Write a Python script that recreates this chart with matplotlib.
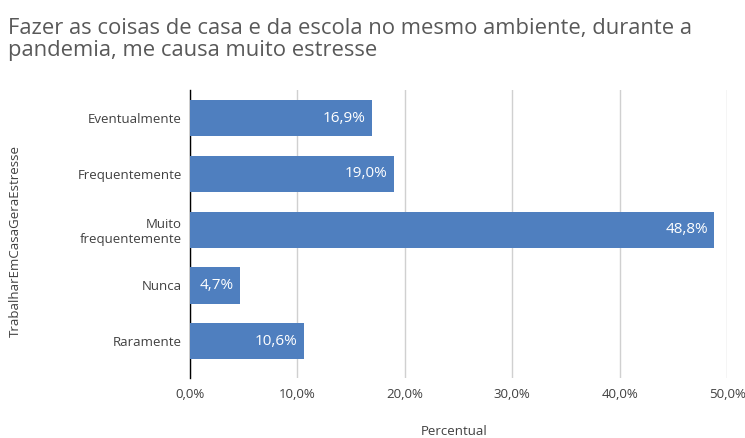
import matplotlib.pyplot as plt
import numpy as np

categories = ["Eventualmente", "Frequentemente", "Muito\nfrequentemente", "Nunca", "Raramente"]
values = [16.9, 19.0, 48.8, 4.7, 10.6]
xticks = [0, 10, 20, 30, 40, 50]

plt.rcParams['font.family'] = ['Open Sans', 'DejaVu Sans']

fig = plt.figure(figsize=(7.45, 4.38), dpi=100)
ax = fig.add_axes([0.255, 0.137, 0.721, 0.657])

y = np.arange(len(categories))
bars = ax.barh(y, values, height=0.65, color="#4f7fbf", zorder=3)

for b, v in zip(bars, values):
    ax.text(b.get_width() - 0.6, b.get_y() + b.get_height() / 2,
            f"{v:.1f}%".replace(".", ","), ha="right", va="center",
            color="white", fontsize=11, zorder=4)

ax.set_yticks(y)
ax.set_yticklabels(categories, fontsize=9.5, color="#404040", linespacing=1.15)
ax.set_xticks(xticks)
ax.set_xticklabels([f"{t:.1f}%".replace(".", ",") for t in xticks], fontsize=9.5, color="#404040")
ax.set_xlim(0, 50)
ax.set_ylim(4.66, -0.5)
ax.tick_params(length=0, pad=6)
ax.tick_params(axis="x", pad=7)

ax.grid(axis="x", color="#d0d0d0", linewidth=1, zorder=0)
for s in ["top", "right", "bottom"]:
    ax.spines[s].set_visible(False)
ax.spines["left"].set_color("#000000")
ax.spines["left"].set_linewidth(1)

fig.text(0.61, 0.0, "Percentual", ha="center", va="bottom", fontsize=9.5, color="#404040")
fig.text(0.02, 0.45, "TrabalharEmCasaGeraEstresse", rotation=90, ha="center", va="center",
         fontsize=9.5, color="#404040")
fig.text(0.011, 0.96, "Fazer as coisas de casa e da escola no mesmo ambiente, durante a\npandemia, me causa muito estresse",
         ha="left", va="top", fontsize=15.8, color="#595959", linespacing=1.1)

fig.savefig("out.png", dpi=100)
